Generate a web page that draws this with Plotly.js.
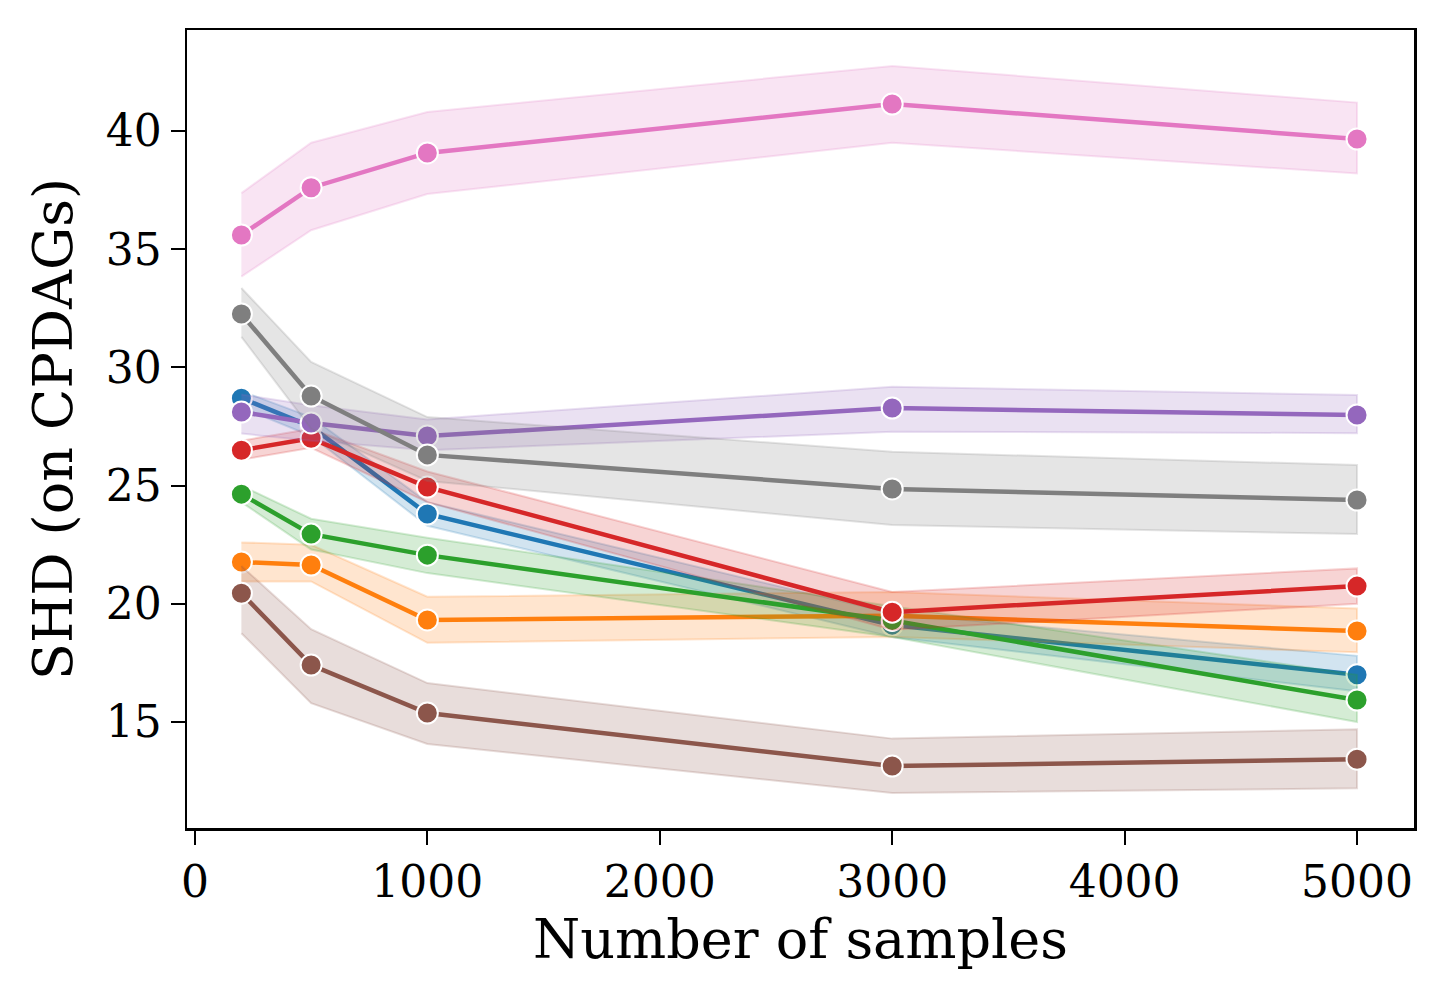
<!DOCTYPE html>
<html>
<head>
<meta charset="utf-8">
<script src="https://cdn.plot.ly/plotly-3.0.1.min.js"></script>
<style>
  body { margin: 0; background: #fff; }
  #chart { width: 1446px; height: 1003px; }
</style>
</head>
<body>
<div id="chart"></div>
<script>
// sample sizes on the x axis
var samples = [200, 500, 1000, 3000, 5000];

// mean SHD per method, with lower / upper band edges
var blueMean = [28.7, 27.5, 23.8, 19.1, 17.0];
var blueLow  = [28.3, 27.1, 23.3, 18.6, 16.3];
var blueHigh = [29.0, 27.9, 24.3, 19.6, 17.8];

var orangeMean = [21.77, 21.64, 19.32, 19.5, 18.85];
var orangeLow  = [20.95, 20.95, 18.35, 18.6, 17.95];
var orangeHigh = [22.6, 22.5, 20.3, 20.5, 19.8];

var greenMean = [24.64, 22.95, 22.06, 19.3, 15.93];
var greenLow  = [24.3, 22.3, 21.3, 18.6, 15.0];
var greenHigh = [25.0, 23.6, 22.8, 19.9, 17.0];

var redMean = [26.5, 27.0, 24.94, 19.65, 20.75];
var redLow  = [26.1, 26.6, 24.3, 18.9, 20.0];
var redHigh = [26.9, 27.4, 25.6, 20.5, 21.5];

var purpleMean = [28.11, 27.65, 27.1, 28.28, 27.99];
var purpleLow  = [27.2, 26.9, 26.5, 27.28, 27.22];
var purpleHigh = [28.85, 28.4, 27.8, 29.18, 28.83];

var brownMean = [20.45, 17.41, 15.38, 13.14, 13.43];
var brownLow  = [18.76, 15.8, 14.07, 12.0, 12.2];
var brownHigh = [21.6, 18.93, 16.65, 14.3, 14.7];

var pinkMean = [35.6, 37.6, 39.07, 41.14, 39.66];
var pinkLow  = [33.84, 35.8, 37.33, 39.5, 38.2];
var pinkHigh = [37.37, 39.5, 40.8, 42.75, 41.2];

var grayMean = [32.26, 28.79, 26.3, 24.86, 24.39];
var grayLow  = [31.29, 27.4, 25.2, 23.33, 22.95];
var grayHigh = [33.36, 30.23, 27.9, 26.43, 25.87];

var series = [
  { mean: blueMean,   low: blueLow,   high: blueHigh,   rgb: "31,119,180" },
  { mean: orangeMean, low: orangeLow, high: orangeHigh, rgb: "255,127,14" },
  { mean: greenMean,  low: greenLow,  high: greenHigh,  rgb: "44,160,44" },
  { mean: redMean,    low: redLow,    high: redHigh,    rgb: "214,39,40" },
  { mean: purpleMean, low: purpleLow, high: purpleHigh, rgb: "148,103,189" },
  { mean: brownMean,  low: brownLow,  high: brownHigh,  rgb: "140,86,75" },
  { mean: pinkMean,   low: pinkLow,   high: pinkHigh,   rgb: "227,119,194" },
  { mean: grayMean,   low: grayLow,   high: grayHigh,   rgb: "127,127,127" }
];

var data = [];
series.forEach(function (s) {
  // confidence band as closed polygon: upper edge then lower edge reversed
  var bx = samples.concat(samples.slice().reverse());
  var by = s.high.concat(s.low.slice().reverse());
  data.push({
    x: bx,
    y: by,
    type: "scatter",
    mode: "lines",
    fill: "toself",
    fillcolor: "rgba(" + s.rgb + ",0.2)",
    line: { color: "rgba(" + s.rgb + ",0.2)", width: 2 },
    hoverinfo: "skip",
    showlegend: false
  });
  data.push({
    x: samples,
    y: s.mean,
    type: "scatter",
    mode: "lines+markers",
    line: { color: "rgb(" + s.rgb + ")", width: 4.5 },
    marker: { color: "rgb(" + s.rgb + ")", size: 21, line: { color: "#fff", width: 2 } },
    showlegend: false
  });
});

var font = "DejaVu Serif, serif";

var layout = {
  width: 1446,
  height: 1003,
  margin: { l: 187, r: 32, t: 30, b: 175 },
  paper_bgcolor: "#fff",
  plot_bgcolor: "#fff",
  showlegend: false,
  font: { family: font, color: "#000" },
  xaxis: {
    range: [-34, 5245],
    tickvals: [0, 1000, 2000, 3000, 4000, 5000],
    ticks: "outside",
    ticklen: 14,
    tickwidth: 2,
    tickcolor: "#000",
    showgrid: false,
    zeroline: false,
    showline: true,
    mirror: true,
    linecolor: "#000",
    linewidth: 2.5,
    tickfont: { family: font, size: 44, color: "#000" },
    title: { text: "Number of samples", font: { family: font, size: 54, color: "#000" }, standoff: 14 }
  },
  yaxis: {
    range: [10.52, 44.27],
    tickvals: [15, 20, 25, 30, 35, 40],
    ticks: "outside",
    ticklen: 14,
    tickwidth: 2,
    tickcolor: "#000",
    showgrid: false,
    zeroline: false,
    showline: true,
    mirror: true,
    linecolor: "#000",
    linewidth: 2.5,
    tickfont: { family: font, size: 44, color: "#000" },
    title: { text: "SHD (on CPDAGs)", font: { family: font, size: 54, color: "#000" }, standoff: 16 }
  }
};

Plotly.newPlot("chart", data, layout, { staticPlot: true });
</script>
</body>
</html>
